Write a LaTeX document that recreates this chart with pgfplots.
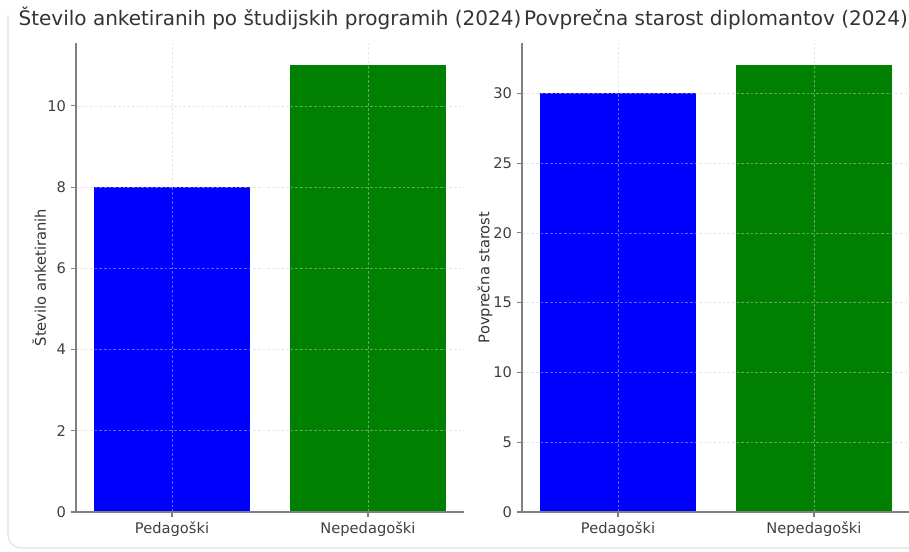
\documentclass[border=0pt]{standalone}
\usepackage{fontspec}
\setmainfont{DejaVu Sans}
\usepackage{pgfplots}
\pgfplotsset{compat=1.18}
\definecolor{mplgreen}{HTML}{008000}
\definecolor{mplblue}{HTML}{0000FF}
\pgfplotsset{
  mybar/.style={
    width=291pt, height=351.75pt, scale only axis,
    xmin=-0.49, xmax=1.49, ymin=0,
    axis x line*=bottom, axis y line*=left,
    axis line style={black!50, line width=0.9pt},
    tick style={black!50, line width=0.8pt},
    tick align=outside, major tick length=4pt,
    xtick={0,1}, xticklabels={Pedagoški,Nepedagoški},
    ticklabel style={font=\fontsize{11}{13}\selectfont, text=black!75},
    /pgf/number format/assume math mode=true,
    grid=major,
    major grid style={dash pattern=on 2pt off 1.5pt, black!20, line width=0.5pt, opacity=0.5},
    axis on top,
    title style={at={(0.5,1)}, anchor=base, inner sep=0pt, yshift=6.75pt,
      font=\fontsize{15}{17}\selectfont, text=black!80},
    ylabel style={at={(axis description cs:-0.095,0.5)}, anchor=center,
      font=\fontsize{11}{13}\selectfont, text=black!80},
    every axis plot/.append style={ybar, bar width=0.8, draw=none},
  }
}
\begin{document}
\begin{tikzpicture}
\useasboundingbox (0,0) rectangle (681.75pt,413.25pt);
\draw[black!12, line width=0.8pt, rounded corners=10pt] (6pt,402pt) -- (6pt,2.25pt) -- (690pt,2.25pt);
\begin{axis}[mybar, at={(57pt,29.25pt)}, anchor=south west,
  ymax=11.55, ytick={0,2,4,6,8,10},
  title={Število anketiranih po študijskih programih (2024)},
  ylabel={Število anketiranih}]
  \addplot[fill=mplblue] coordinates {(0,8)};
  \addplot[fill=mplgreen] coordinates {(1,11)};
\end{axis}
\begin{axis}[mybar, at={(391.5pt,29.25pt)}, anchor=south west,
  ymax=33.6, ytick={0,5,10,15,20,25,30},
  title={Povprečna starost diplomantov (2024)},
  ylabel={Povprečna starost}]
  \addplot[fill=mplblue] coordinates {(0,30)};
  \addplot[fill=mplgreen] coordinates {(1,32)};
\end{axis}
\end{tikzpicture}
\end{document}
